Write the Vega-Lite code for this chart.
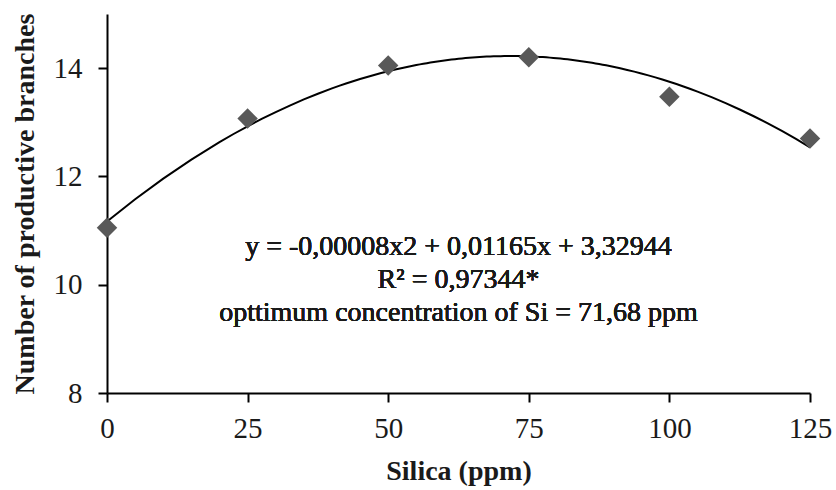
{
  "$schema": "https://vega.github.io/schema/vega-lite/v6.json",
  "width": 703,
  "height": 379,
  "autosize": {"type": "none"},
  "padding": {"left": 107, "top": 14, "right": 26, "bottom": 97},
  "background": "white",
  "config": {
    "view": {"stroke": null},
    "font": "Liberation Serif",
    "axis": {
      "grid": false,
      "labelFlush": false,
      "domainColor": "black",
      "domainWidth": 2,
      "tickColor": "black",
      "tickWidth": 2,
      "tickSize": 9,
      "labelFont": "Liberation Serif",
      "labelFontSize": 29,
      "labelColor": "#1a1a1a",
      "titleFont": "Liberation Serif",
      "titleFontSize": 28,
      "titleFontWeight": "bold",
      "titleColor": "#1a1a1a"
    }
  },
  "data": {
    "values": [
      {"silica": 0, "branches": 11.05},
      {"silica": 25, "branches": 13.07},
      {"silica": 50, "branches": 14.05},
      {"silica": 75, "branches": 14.2},
      {"silica": 100, "branches": 13.47},
      {"silica": 125, "branches": 12.7}
    ]
  },
  "layer": [
    {
      "transform": [
        {"regression": "branches", "on": "silica", "method": "poly", "order": 2, "extent": [0, 125]}
      ],
      "mark": {"type": "line", "color": "black", "strokeWidth": 2},
      "encoding": {
        "x": {"field": "silica", "type": "quantitative"},
        "y": {"field": "branches", "type": "quantitative"}
      }
    },
    {
      "mark": {"type": "point", "shape": "diamond", "filled": true, "color": "#595959", "opacity": 1, "size": 420},
      "encoding": {
        "x": {
          "field": "silica", "type": "quantitative",
          "scale": {"domain": [0, 125], "nice": false, "zero": false},
          "axis": {"values": [0, 25, 50, 75, 100, 125], "format": "d", "title": "Silica (ppm)", "labelPadding": 12, "titlePadding": 14}
        },
        "y": {
          "field": "branches", "type": "quantitative",
          "scale": {"domain": [8, 15], "nice": false, "zero": false},
          "axis": {"values": [8, 10, 12, 14], "format": "d", "title": "Number of productive branches", "labelPadding": 16, "titlePadding": 14}
        }
      }
    },
    {
      "mark": {
        "type": "text",
        "text": ["y = -0,00008x2  + 0,01165x + 3,32944", "R² = 0,97344*", "opttimum concentration of Si = 71,68  ppm"],
        "font": "Liberation Serif",
        "fontSize": 28,
        "fontWeight": "normal",
        "lineHeight": 33,
        "align": "center",
        "baseline": "middle",
        "color": "#1a1a1a"
      },
      "encoding": {
        "x": {"datum": 62.5},
        "y": {"datum": 10.7}
      }
    }
  ]
}
